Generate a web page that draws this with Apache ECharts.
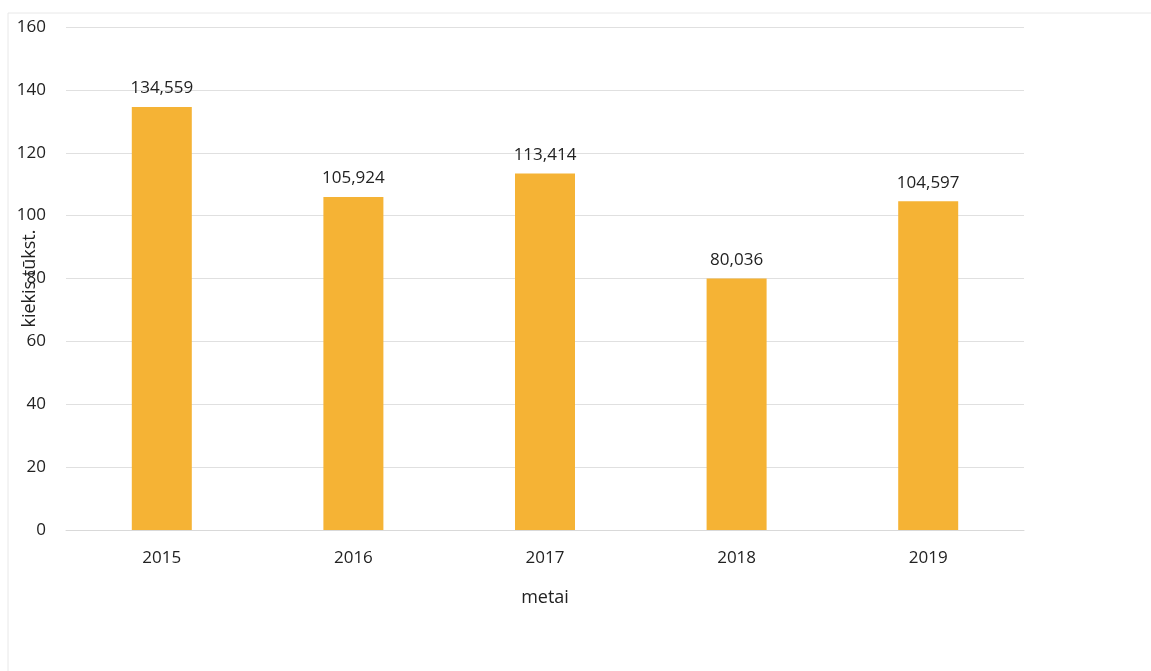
<!DOCTYPE html>
<html>
<head>
<meta charset="utf-8">
<script src="https://cdn.jsdelivr.net/npm/echarts@6/dist/echarts.min.js"></script>
<style>html,body{margin:0;padding:0;background:#fff}#c{width:1151px;height:671px}</style>
</head>
<body>
<div id="c"></div>
<script>
var categories = ['2015', '2016', '2017', '2018', '2019'];
var values = [134.559, 105.924, 113.414, 80.036, 104.597];
var yTicks = [0, 20, 40, 60, 80, 100, 120, 140, 160];

var chart = echarts.init(document.getElementById('c'));
var font = 'Open Sans';
chart.setOption({
  animation: false,
  graphic: [{
    type: 'rect', shape: {x: 8, y: 13, width: 1160, height: 700},
    style: {fill: 'none', stroke: '#e8e8e8', lineWidth: 1}, silent: true
  }],
  grid: {left: 66, right: 127, top: 27, bottom: 141, containLabel: false, outerBoundsMode: 'none'},
  xAxis: {
    type: 'category', data: categories,
    name: 'metai', nameLocation: 'middle', nameGap: 59, nameMoveOverlap: false,
    nameTextStyle: {fontFamily: font, fontSize: 18, color: '#222'},
    axisLine: {lineStyle: {color: '#d9d9d9'}},
    axisTick: {show: false},
    axisLabel: {fontFamily: font, fontSize: 17, color: '#222', margin: 20}
  },
  yAxis: {
    type: 'value', min: 0, max: 160, interval: 20,
    name: 'kiekis tūkst.', nameLocation: 'middle', nameGap: 27, nameRotate: 90, nameMoveOverlap: false,
    nameTextStyle: {fontFamily: font, fontSize: 18, color: '#222'},
    axisLine: {show: false}, axisTick: {show: false},
    splitLine: {lineStyle: {color: '#e0e0e0'}},
    axisLabel: {fontFamily: font, fontSize: 17, color: '#222', margin: 20,
      formatter: function (v) { return yTicks.indexOf(v) >= 0 ? String(v) : ''; }}
  },
  series: [{
    type: 'bar', data: values, barWidth: 60,
    itemStyle: {color: '#F5B335'},
    label: {show: true, position: 'top', distance: 10, fontFamily: font, fontSize: 17, color: '#222',
      formatter: function (p) { return p.value.toFixed(3).replace('.', ','); }}
  }]
});
</script>
</body>
</html>
